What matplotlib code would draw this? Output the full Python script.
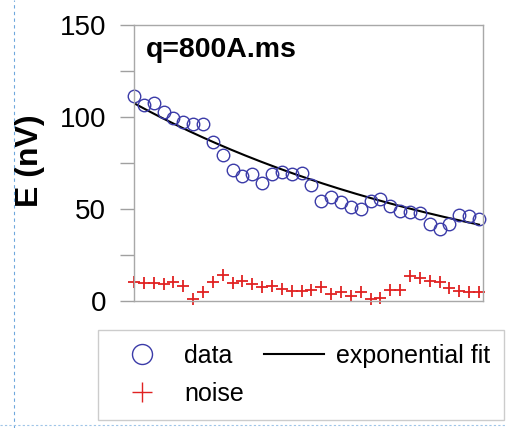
import numpy as np
import matplotlib
matplotlib.use("Agg")
import matplotlib.pyplot as plt
from matplotlib.lines import Line2D

plt.rcParams['font.family'] = ['Liberation Sans', 'DejaVu Sans']

# sample index along the record
idx = np.arange(36)

# measured signal E (nV)
data = [111.5, 106.7, 107.5, 102.6, 99.6, 97.2, 96.1, 96.1, 86.6, 79.6,
        71.2, 67.7, 68.8, 64.4, 68.8, 70.1, 68.8, 69.3, 63.3, 54.1,
        56.3, 53.6, 50.9, 49.8, 54.1, 55.2, 51.4, 48.7, 48.2, 47.6,
        41.7, 39.0, 41.7, 46.6, 46.0, 44.4]

# noise level (nV)
noise = [10.1, 9.7, 9.7, 9.2, 10.1, 8.3, 1.1, 5.0, 10.1, 14.1,
         9.7, 10.8, 9.2, 7.4, 8.3, 6.5, 5.6, 5.6, 6.1, 7.4,
         3.8, 5.0, 2.9, 4.7, 1.1, 1.5, 6.1, 6.1, 13.4, 12.3,
         11.0, 10.1, 6.9, 5.6, 5.0, 5.0]

# exponential fit parameters
fit_a = 107.5
fit_b = 0.0272

yticks = [0, 50, 100, 150]
yticks_minor = [25, 75, 125]

fig = plt.figure(figsize=(5.07, 4.28), dpi=100)
ax = fig.add_axes([0.2643, 0.2967, 0.6884, 0.6449])

xf = np.linspace(idx[0], idx[-1], 200)
fit_line, = ax.plot(xf, fit_a * np.exp(-fit_b * xf), color='black', lw=1.5)
data_pts, = ax.plot(idx, data, 'o', ms=9, mfc='none', mec='#3b3ba8', mew=1.0,
                    clip_on=False)
noise_pts, = ax.plot(idx, noise, '+', ms=9, color='#e02222', mew=1.3,
                     clip_on=False)

ax.set_xlim(0, 35.4)
ax.set_ylim(0, 150)
ax.set_xticks([])
ax.set_yticks(yticks)
ax.set_yticks(yticks_minor, minor=True)
ax.set_yticklabels([str(t) for t in yticks])
ax.tick_params(axis='y', which='both', direction='out', length=10, width=1,
               color='#a0a0a0', pad=10, labelsize=20)
for s in ax.spines.values():
    s.set_color('#a8a8a8')
    s.set_linewidth(1.0)

ax.set_ylabel('E (nV)', fontsize=23, fontweight='bold')
ax.yaxis.set_label_coords(-0.255, 0.51)

ax.text(0.034, 0.91, 'q=800A.ms', transform=ax.transAxes, fontsize=20.5,
        fontweight='bold', va='center', ha='left')

leg = fig.legend([data_pts, noise_pts, fit_line], ['data', 'noise', 'exponential fit'],
                 ncol=2, loc='center', bbox_to_anchor=(0.594, 0.124),
                 fontsize=18, numpoints=1, markerscale=1.6, handlelength=2.4,
                 handletextpad=0.5, columnspacing=0.8, labelspacing=0.55,
                 borderpad=0.55, fancybox=False, frameon=True)
leg.get_frame().set_edgecolor('#c0c0c0')
leg.get_frame().set_linewidth(1.0)
for h in leg.legend_handles[:2]:
    h.set_markeredgewidth(1.0)

# dashed page-frame guides seen in the screenshot
fig.add_artist(Line2D([14 / 507, 14 / 507], [0, 1], transform=fig.transFigure,
                      color='#6fa8dc', lw=0.8, ls=(0, (3, 3))))
fig.add_artist(Line2D([0, 1], [3 / 428, 3 / 428], transform=fig.transFigure,
                      color='#9fc5e8', lw=0.8, ls=(0, (2, 2))))

fig.savefig('out.png', dpi=100)
